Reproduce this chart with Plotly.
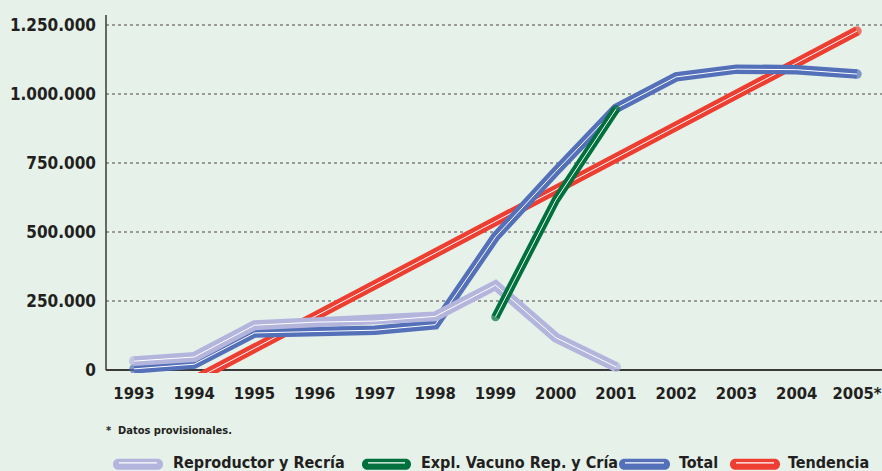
import plotly.graph_objects as go

# ---------------- data ----------------
years = [1993, 1994, 1995, 1996, 1997, 1998, 1999, 2000, 2001, 2002, 2003, 2004, 2005]
year_labels = ["1993", "1994", "1995", "1996", "1997", "1998", "1999", "2000",
               "2001", "2002", "2003", "2004", "2005*"]

repro_years = [1993, 1994, 1995, 1996, 1997, 1998, 1999, 2000, 2001]
repro_values = [33000, 48000, 163000, 174000, 178000, 195000, 308000, 118000, 12000]

expl_years = [1999, 2000, 2001]
expl_values = [193000, 616000, 945000]

total_years = years
total_values = [5000, 22000, 135000, 140000, 145000, 165000, 483000, 720000, 948000,
                1062000, 1090000, 1088000, 1072000]

trend_years = [1993, 2005]
trend_values = [-150000, 1228000]

y_tickvals = [0, 250000, 500000, 750000, 1000000, 1250000]
y_ticktext = ["0", "250.000", "500.000", "750.000", "1.000.000", "1.250.000"]

series_names = ["Reproductor y Recría", "Expl. Vacuno Rep. y Cría", "Total", "Tendencia"]

# ---------------- style ----------------
BG = "#e5f1e9"
TXT = "#231f20"
FONT = "DejaVu Sans Condensed, Liberation Sans Narrow, Arial Narrow, sans-serif"
C_REPRO = "#b3b5dd"
C_EXPL = "#00703c"
C_TOTAL = "#5470b8"
C_TREND = "#ee3e31"

fig = go.Figure()


def add_series(xs, ys, color, width):
    n = len(xs)
    sizes = [width] + [0] * (n - 2) + [width]
    fig.add_trace(go.Scatter(
        x=xs, y=ys, mode="lines+markers",
        line=dict(color=color, width=width),
        marker=dict(size=sizes, color=color, line=dict(width=0)),
        hoverinfo="skip", showlegend=False))
    fig.add_trace(go.Scatter(
        x=xs, y=ys, mode="lines",
        line=dict(color="white", width=1.0),
        hoverinfo="skip", showlegend=False))


add_series(trend_years, trend_values, C_TREND, 9.5)
add_series(total_years, total_values, C_TOTAL, 9.5)
add_series(repro_years, repro_values, C_REPRO, 10)
add_series(expl_years, expl_values, C_EXPL, 8.5)

W, H = 882, 471
L, R, T, B = 106, 0, 15, 98.24
pw, ph = W - L - R, H - T - B


def px(xpix):
    return (xpix - L) / pw


def py(ypix):
    return (H - B - ypix) / ph


shapes = []
# y axis line
shapes.append(dict(type="line", xref="paper", yref="y", x0=0, x1=0, y0=0, y1=1286000,
                   line=dict(color="#3a3a3a", width=1.5), layer="above"))

# legend symbols
legend_items = [
    (113, 163, 171, C_REPRO, series_names[0]),
    (362, 411, 419, C_EXPL, series_names[1]),
    (619, 670, 677, C_TOTAL, series_names[2]),
    (730, 780, 786, C_TREND, series_names[3]),
]
ly = 464
r = 5.5
annotations = []
for x0, x1, tx, col, name in legend_items:
    w = x1 - x0
    k = 1.333 * r
    path = (f"M {r},{-r} L {w - r},{-r} C {w - r + k},{-r} {w - r + k},{r} {w - r},{r} "
            f"L {r},{r} C {r - k},{r} {r - k},{-r} {r},{-r} Z")
    shapes.append(dict(type="path", xref="paper", yref="paper",
                       xsizemode="pixel", ysizemode="pixel",
                       xanchor=px(x0), yanchor=py(ly), path=path,
                       fillcolor=col, line=dict(width=0)))
    shapes.append(dict(type="line", xref="paper", yref="paper",
                       x0=px(x0 + 6), x1=px(x1 - 6), y0=py(ly - 1.5), y1=py(ly - 1.5),
                       line=dict(color="white", width=1.2)))
    annotations.append(dict(text=name, xref="paper", yref="paper", x=px(tx), y=py(462),
                            xanchor="left", yanchor="middle", showarrow=False,
                            font=dict(family=FONT, size=16, color=TXT, weight="bold")))

annotations.append(dict(text="*  Datos provisionales.", xref="paper", yref="paper",
                        x=px(104), y=py(430), xanchor="left", yanchor="middle",
                        showarrow=False,
                        font=dict(family=FONT, size=11, color=TXT, weight="bold")))

fig.update_layout(
    width=W, height=H,
    margin=dict(l=L, r=R, t=T, b=B, pad=0),
    paper_bgcolor=BG, plot_bgcolor=BG,
    showlegend=False,
    font=dict(family=FONT, color=TXT),
    shapes=shapes,
    annotations=annotations,
    xaxis=dict(range=[1992.535, 2005.415], tickvals=years, ticktext=year_labels,
               showgrid=False, zeroline=False, showline=False, ticks="",
               ticklabelstandoff=8, automargin=False,
               tickfont=dict(family=FONT, size=16.5, color=TXT, weight="bold"),
               fixedrange=True),
    yaxis=dict(range=[-10000, 1286000], tickvals=y_tickvals, ticktext=y_ticktext,
               showgrid=True, gridcolor="#9a9a9a", gridwidth=1.5, griddash="dot",
               zeroline=True, zerolinecolor="#3a3a3a", zerolinewidth=1.5,
               showline=False, ticks="", ticklabelstandoff=9, automargin=False,
               tickfont=dict(family=FONT, size=17, color=TXT, weight="bold"),
               fixedrange=True),
)

fig.write_html("out.html", config={"displayModeBar": False},
               post_script="document.body.style.margin='0';document.body.style.padding='0';")
